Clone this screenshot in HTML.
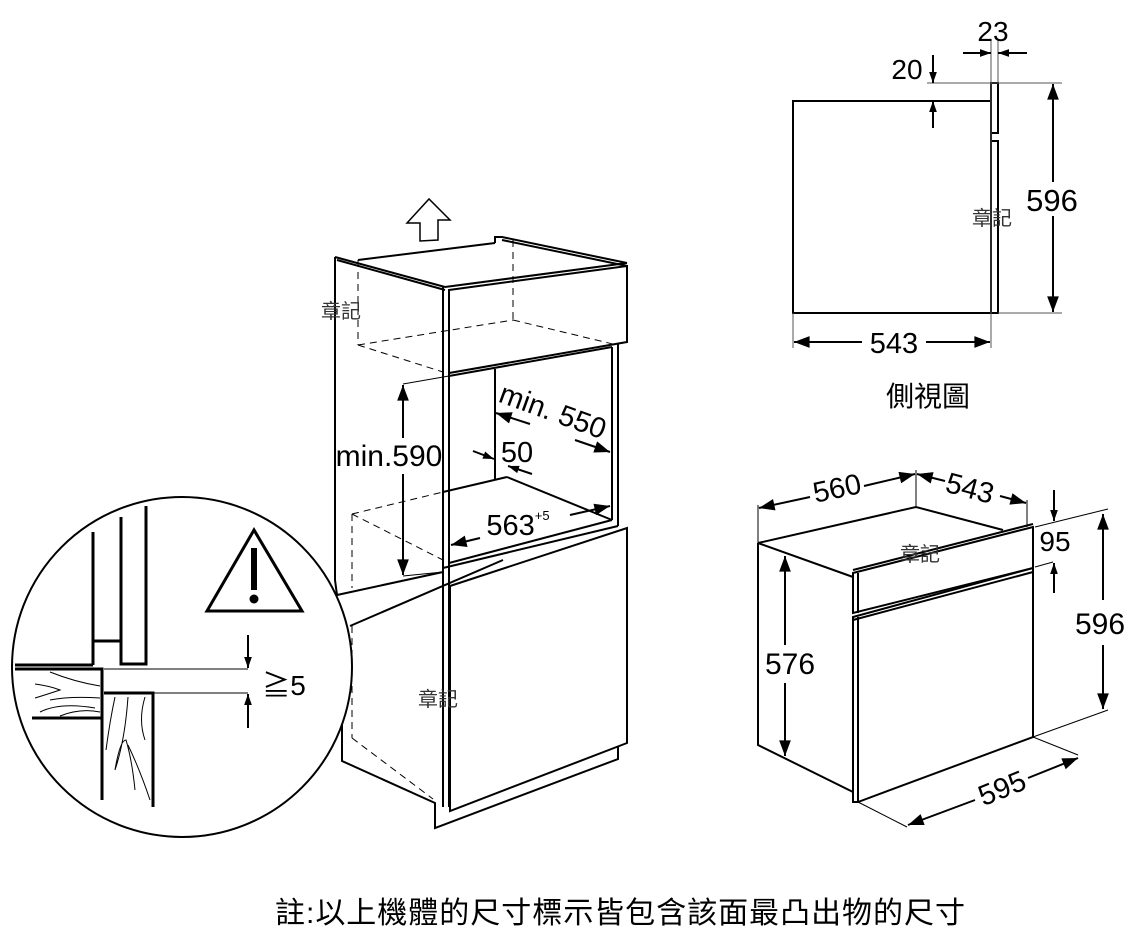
<!DOCTYPE html>
<html><head><meta charset="utf-8"><style>
html,body{margin:0;padding:0;background:#fff;}
svg{display:block;}
text{font-family:"Liberation Sans","Noto Sans CJK TC",sans-serif;fill:#000;}
</style></head><body>
<svg width="1129" height="941" viewBox="0 0 1129 941" xmlns="http://www.w3.org/2000/svg">
<defs>
<marker id="a" viewBox="0 0 10 10" refX="10" refY="5" markerWidth="11" markerHeight="11" markerUnits="userSpaceOnUse" orient="auto-start-reverse"><path d="M0,1.5 L10,5 L0,8.5 z" fill="#000"/></marker>
<marker id="b" viewBox="0 0 12 10" refX="12" refY="5" markerWidth="17" markerHeight="13" markerUnits="userSpaceOnUse" orient="auto-start-reverse"><path d="M0,0.5 L12,5 L0,9.5 z" fill="#000"/></marker>
</defs>

<!-- ===== Side view ===== -->
<g fill="none" stroke="#000">
<rect x="793" y="101" width="198" height="212" stroke-width="2"/>
<rect x="991" y="83" width="7" height="50" stroke-width="2"/>
<rect x="991" y="141" width="7" height="172" stroke-width="2"/>
<g stroke-width="1" stroke="#555">
<line x1="991" y1="40" x2="991" y2="348"/>
<line x1="998" y1="40" x2="998" y2="83"/>
<line x1="927" y1="83" x2="1062" y2="83"/>
<line x1="998" y1="313" x2="1062" y2="313"/>
<line x1="793" y1="313" x2="793" y2="348"/>
</g>
<g stroke-width="2">
<line x1="963" y1="53" x2="991" y2="53" marker-end="url(#a)"/>
<line x1="1027" y1="53" x2="998" y2="53" marker-end="url(#a)"/>
<line x1="933" y1="55" x2="933" y2="83" marker-end="url(#a)"/>
<line x1="933" y1="128" x2="933" y2="101" marker-end="url(#a)"/>
<line x1="1053" y1="182" x2="1053" y2="84" marker-end="url(#b)"/>
<line x1="1053" y1="216" x2="1053" y2="312" marker-end="url(#b)"/>
<line x1="862" y1="342" x2="794" y2="342" marker-end="url(#b)"/>
<line x1="926" y1="342" x2="990" y2="342" marker-end="url(#b)"/>
</g>
</g>
<rect x="1026" y="182" width="54" height="34" fill="#fff"/>
<text x="993" y="41" font-size="28" text-anchor="middle">23</text>
<text x="907" y="79" font-size="28" text-anchor="middle">20</text>
<text x="1052" y="211" font-size="31" text-anchor="middle">596</text>
<text x="894" y="353" font-size="29" text-anchor="middle">543</text>
<text x="992" y="225" font-size="20" text-anchor="middle" style="fill:#333">章記</text>
<text x="928" y="406" font-size="28" text-anchor="middle">側視圖</text>

<!-- ===== Oven isometric ===== -->
<g fill="none" stroke="#000" stroke-width="2">
<polyline points="758,543 916,507 1003,530"/>
<polyline points="758,543 758,745 853,792"/>
<line x1="758" y1="543" x2="853" y2="577"/>
<polygon points="853,573 1033,527 1033,568 853,613" />
<line x1="858" y1="573" x2="858" y2="613"/>
<line x1="853" y1="570" x2="1033" y2="524"/>
<polygon points="853,617 1033,568 1033,737 858,802 853,802"/>
<line x1="858" y1="617" x2="858" y2="802"/>
<line x1="853" y1="620" x2="1033" y2="572"/>
</g>
<g stroke="#000" stroke-width="1" fill="none">
<line x1="758" y1="505" x2="758" y2="543"/>
<line x1="916" y1="470" x2="916" y2="507"/>
<line x1="1027" y1="500" x2="1027" y2="527"/>
<line x1="1035" y1="527" x2="1108" y2="509"/>
<line x1="1035" y1="567" x2="1053" y2="562"/>
<line x1="1033" y1="737" x2="1108" y2="710"/>
<line x1="858" y1="802" x2="907" y2="827"/>
<line x1="1033" y1="737" x2="1078" y2="755"/>
</g>
<g stroke="#000" stroke-width="2" fill="none">
<line x1="810" y1="497" x2="759" y2="508" marker-end="url(#b)"/>
<line x1="864" y1="486" x2="915" y2="474" marker-end="url(#b)"/>
<line x1="945" y1="481" x2="917" y2="474" marker-end="url(#b)"/>
<line x1="1000" y1="496" x2="1026" y2="503" marker-end="url(#b)"/>
<line x1="1054" y1="490" x2="1054" y2="521" marker-end="url(#a)"/>
<line x1="1054" y1="593" x2="1054" y2="563" marker-end="url(#a)"/>
<line x1="1103" y1="600" x2="1103" y2="514" marker-end="url(#b)"/>
<line x1="1103" y1="645" x2="1103" y2="709" marker-end="url(#b)"/>
<line x1="785" y1="645" x2="785" y2="556" marker-end="url(#b)"/>
<line x1="785" y1="683" x2="785" y2="756" marker-end="url(#b)"/>
<line x1="975" y1="800" x2="908" y2="825" marker-end="url(#b)"/>
<line x1="1028" y1="778" x2="1078" y2="758" marker-end="url(#b)"/>
</g>
<text x="837" y="498" font-size="29" text-anchor="middle" transform="rotate(-12 837 488)">560</text>
<text x="970" y="498" font-size="29" text-anchor="middle" transform="rotate(15 970 488)">543</text>
<text x="1055" y="551" font-size="28" text-anchor="middle">95</text>
<text x="1100" y="634" font-size="30" text-anchor="middle">596</text>
<text x="790" y="674" font-size="30" text-anchor="middle">576</text>
<text x="1002" y="798" font-size="29" text-anchor="middle" transform="rotate(-22 1002 788)">595</text>
<text x="920" y="561" font-size="20" text-anchor="middle" style="fill:#333">章記</text>

<!-- ===== Cabinet ===== -->
<polygon points="407,223 429,199 450,220 438,220 438,240 420,241 420,223" fill="none" stroke="#000" stroke-width="1.5"/>
<g fill="none" stroke="#000" stroke-width="2">
<polyline points="335,257 335,580 337,595 443,572"/>
<line x1="335" y1="257" x2="445" y2="287"/>
<line x1="337" y1="260" x2="445" y2="290"/>
<line x1="358" y1="260" x2="495" y2="243"/>
<polyline points="495,243 495,237 502,237 627,263"/>
<line x1="502" y1="240" x2="627" y2="266"/>
<line x1="445" y1="287" x2="627" y2="263"/>
<polygon points="449,290 627,266 627,342 449,373"/>
<line x1="443" y1="287" x2="443" y2="807"/>
<line x1="449" y1="290" x2="449" y2="807"/>
<line x1="449" y1="376" x2="612" y2="347"/>
<line x1="612" y1="347" x2="612" y2="520"/>
<line x1="618" y1="344" x2="618" y2="526"/>
<line x1="449" y1="563" x2="612" y2="520"/>
<line x1="495" y1="369" x2="495" y2="480"/>
<line x1="443" y1="492" x2="507" y2="477"/>
<line x1="507" y1="477" x2="612" y2="520"/>
<line x1="443" y1="568" x2="618" y2="526"/>
<polygon points="450,586 627,528 627,743 450,811"/>
<line x1="350" y1="626" x2="503" y2="560"/>
<polyline points="342,690 342,761 435,803 435,828 618,759 618,747"/>
</g>
<g fill="none" stroke="#000" stroke-width="1">
<line x1="403" y1="384" x2="449" y2="376"/>
<line x1="403" y1="576" x2="443" y2="572"/>
</g>
<g fill="none" stroke="#000" stroke-width="1" stroke-dasharray="7,5">
<line x1="358" y1="260" x2="358" y2="345"/>
<line x1="358" y1="345" x2="443" y2="372"/>
<line x1="358" y1="345" x2="513" y2="320"/>
<line x1="513" y1="240" x2="513" y2="320"/>
<line x1="513" y1="320" x2="617" y2="345"/>
<line x1="352" y1="514" x2="443" y2="492"/>
<line x1="352" y1="514" x2="443" y2="560"/>
<line x1="352" y1="514" x2="352" y2="588"/>
<line x1="352" y1="626" x2="352" y2="738"/>
<line x1="352" y1="738" x2="433" y2="799"/>
</g>
<g stroke="#000" stroke-width="2" fill="none">
<line x1="403" y1="438" x2="403" y2="385" marker-end="url(#b)"/>
<line x1="403" y1="474" x2="403" y2="575" marker-end="url(#b)"/>
<line x1="530" y1="424" x2="496" y2="413" marker-end="url(#b)"/>
<line x1="575" y1="440" x2="610" y2="452" marker-end="url(#b)"/>
<line x1="473" y1="451" x2="494" y2="459" marker-end="url(#a)"/>
<line x1="532" y1="474" x2="508" y2="466" marker-end="url(#a)"/>
<line x1="480" y1="538" x2="451" y2="545" marker-end="url(#b)"/>
<line x1="570" y1="515" x2="610" y2="506" marker-end="url(#b)"/>
</g>
<text x="389" y="466" font-size="30" text-anchor="middle">min.590</text>
<text x="553" y="421" font-size="29" text-anchor="middle" transform="rotate(20 553 411)">min. 550</text>
<text x="517" y="462" font-size="29" text-anchor="middle">50</text>
<text x="518" y="535" font-size="29" text-anchor="middle">563<tspan font-size="13" dy="-15">+5</tspan></text>
<text x="341" y="318" font-size="20" text-anchor="middle" style="fill:#333">章記</text>
<text x="438" y="706" font-size="20" text-anchor="middle" style="fill:#333">章記</text>

<!-- ===== Detail circle ===== -->
<circle cx="182" cy="667" r="170" fill="#fff" stroke="#000" stroke-width="2"/>
<g fill="none" stroke="#000">
<polygon points="207,611 254,530 302,611" stroke-width="3"/>
<g stroke-width="3">
<polyline points="93,532 93,665"/>
<polyline points="121,517 121,664 146,664 146,506"/>
<line x1="93" y1="641" x2="121" y2="641"/>
<line x1="15" y1="665" x2="93" y2="665"/>
<polyline points="15,669 102,669 102,718 32,718"/>
<line x1="102" y1="718" x2="102" y2="800"/>
<polyline points="104,693 153,693 153,807"/>
</g>
<g stroke-width="1">
<line x1="104" y1="669" x2="248" y2="669"/>
<line x1="153" y1="693" x2="248" y2="693"/>
<path d="M50,672 Q75,682 100,686 M35,684 Q50,686 60,690 Q45,695 35,698 M50,700 Q70,696 100,698 M40,712 Q60,702 95,708 M60,716 Q80,708 100,712"/>
<path d="M115,697 Q110,720 106,750 M128,697 Q125,740 115,770 Q120,740 126,740 Q132,760 135,790 M145,697 Q138,720 145,740 M128,745 Q140,770 150,800"/>
</g>
<g stroke-width="2">
<line x1="248" y1="635" x2="248" y2="668" marker-end="url(#a)"/>
<line x1="248" y1="728" x2="248" y2="694" marker-end="url(#a)"/>
</g>
</g>
<rect x="251" y="548" width="6" height="42" fill="#000"/>
<circle cx="254" cy="599" r="4.5" fill="#000"/>
<text x="284" y="695" font-size="28" text-anchor="middle">≧5</text>

<!-- footnote -->
<text x="275" y="923" font-size="30" textLength="690" lengthAdjust="spacing">註:以上機體的尺寸標示皆包含該面最凸出物的尺寸</text>
</svg>
</body></html>
